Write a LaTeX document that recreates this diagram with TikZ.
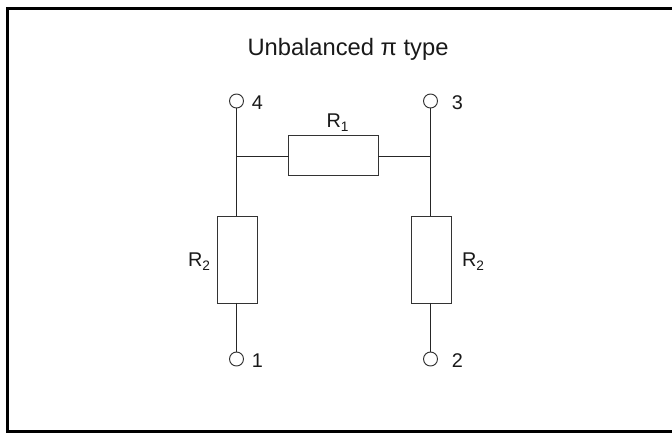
\documentclass[tikz,border=0pt]{standalone}
\usepackage{fontspec}
\setmainfont{Liberation Sans}
\usetikzlibrary{positioning}
\newcommand{\Rsub}[1]{R\raisebox{-2.6pt}{\fontsize{7.8pt}{8pt}\selectfont #1}}
\tikzset{
	frame/.style={draw=black, line width=1.8pt},
	resistor/.style={draw=black!80, line width=0.55pt, fill=white, minimum width=#1, inner sep=0pt, outer sep=0pt},
	terminal/.style={circle, draw=black!80, line width=0.55pt, fill=white, minimum size=0.28cm, inner sep=0pt, outer sep=0pt},
	wire/.style={draw=black!85, line width=0.55pt},
	lbl/.style={font=\fontsize{11.3pt}{13pt}\selectfont, inner sep=0pt, text=black!90, anchor=base},
	ttl/.style={font=\fontsize{13.5pt}{15pt}\selectfont, inner sep=0pt, text=black!90, anchor=base}
}
\begin{document}
\begin{tikzpicture}[x=0.02cm, y=-0.02cm]
	\useasboundingbox (0,0) rectangle (672,433);
	\draw[frame] (672,8.5) -- (7.5,8.5) -- (7.5,431.5) -- (672,431.5);
	
	\node[ttl] (title) at (348,55) {Unbalanced π type};
	
	%Terminals
	\node[terminal] (T4) at (236.5,101) {};
	\node[terminal] (T3) at (430.5,101) {};
	\node[terminal] (T1) at (236.5,359) {};
	\node[terminal] (T2) at (430.5,359) {};
	\node[lbl] (L4) at (257.5,109) {4};
	\node[lbl] (L3) at (457.5,109) {3};
	\node[lbl] (L1) at (257.5,367.5) {1};
	\node[lbl] (L2) at (457.5,367.5) {2};
	
	%Resistors
	\node[resistor=1.79cm, minimum height=0.8cm] (R1) at (333.5,155.5) {};
	\node[resistor=0.81cm, minimum height=1.74cm] (R2a) at (237.5,259.5) {};
	\node[resistor=0.81cm, minimum height=1.74cm] (R2b) at (431.5,259.5) {};
	\node[lbl] (LR1) at (337.5,127) {\Rsub{1}};
	\node[lbl] (LR2a) at (199,266) {\Rsub{2}};
	\node[lbl] (LR2b) at (473,266) {\Rsub{2}};
	
	%Wires
	\coordinate (J4) at (236.5,156.5);
	\coordinate (J3) at (430.5,156.5);
	\draw[wire] (T4) -- (J4) -- (J4 |- R2a.north);
	\draw[wire] (T3) -- (J3) -- (J3 |- R2b.north);
	\draw[wire] (J4) -- (J4 -| R1.west);
	\draw[wire] (J3) -- (J3 -| R1.east);
	\draw[wire] (T1 |- R2a.south) -- (T1);
	\draw[wire] (T2 |- R2b.south) -- (T2);
\end{tikzpicture}
\end{document}
